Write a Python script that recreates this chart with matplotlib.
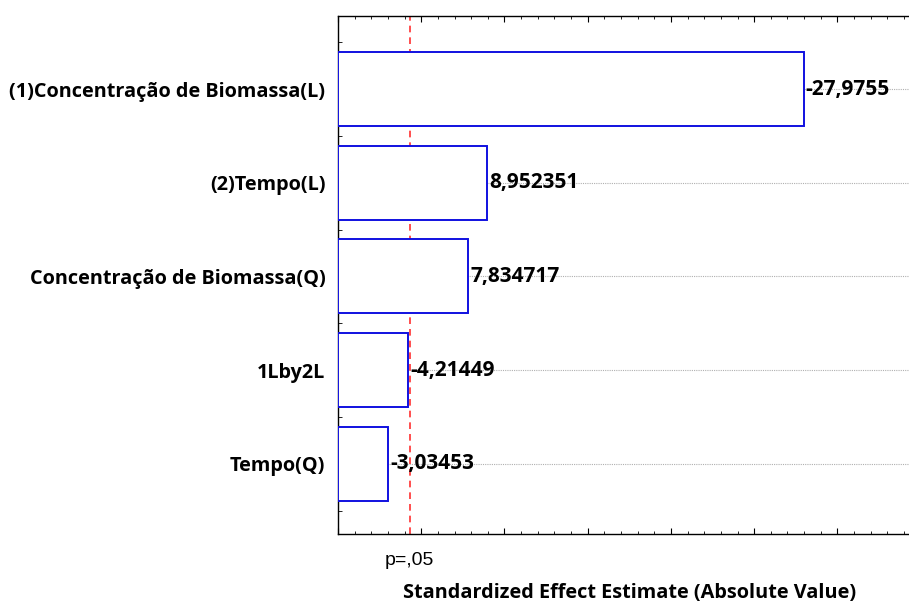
import matplotlib
matplotlib.use("Agg")
import matplotlib.pyplot as plt
from matplotlib.ticker import MultipleLocator, FixedLocator

# --------------------------
# Data (Pareto chart of standardized effects)
# --------------------------
factors = [
    "(1)Concentração de Biomassa(L)",
    "(2)Tempo(L)",
    "Concentração de Biomassa(Q)",
    "1Lby2L",
    "Tempo(Q)",
]
effects = [-27.9755, 8.952351, 7.834717, -4.21449, -3.03453]
value_labels = ["-27,9755", "8,952351", "7,834717", "-4,21449", "-3,03453"]
p_limit = 4.303  # t critical, p=.05

plt.rcParams['font.family'] = ['Open Sans', 'DejaVu Sans']

fig = plt.figure(figsize=(9.09, 6.04), dpi=100)
ax = fig.add_axes([0.3718, 0.1159, 0.6282, 0.8576])

pos = list(range(len(factors)))
abs_eff = [abs(v) for v in effects]

ax.barh(pos, abs_eff, height=0.79, color="white", edgecolor="#1010e0",
        linewidth=1.4, zorder=3)

for y, w, lab in zip(pos, abs_eff, value_labels):
    ax.text(w + 0.12, y, lab, va="center", ha="left", fontsize=15,
            fontweight="bold", zorder=4)

ax.axvline(p_limit, color="#ff3030", linestyle=(0, (4, 3)), linewidth=1.2, zorder=2)

ax.set_xlim(0, 34.3)
ax.set_ylim(4.75, -0.78)

ax.set_yticks(pos)
ax.set_yticklabels(factors, fontsize=14.3, fontweight="bold")
ax.yaxis.set_minor_locator(FixedLocator([i - 0.5 for i in range(len(factors) + 1)]))
ax.xaxis.set_major_locator(MultipleLocator(5))
ax.xaxis.set_minor_locator(MultipleLocator(1))
ax.set_xticklabels([])

ax.tick_params(axis="x", which="both", direction="in", top=True, bottom=True)
ax.tick_params(axis="x", which="major", length=4)
ax.tick_params(axis="x", which="minor", length=2)
ax.tick_params(axis="y", which="major", direction="in", length=3, pad=9)
ax.tick_params(axis="y", which="minor", direction="in", length=3)

ax.grid(axis="y", color="#b0b0b0", linestyle=(0, (1, 1)), linewidth=0.8, zorder=0)
ax.spines["right"].set_visible(False)
for s in ["left", "top", "bottom"]:
    ax.spines[s].set_linewidth(1.0)

ax.text(p_limit, -0.052, "p=,05", transform=ax.get_xaxis_transform(),
        ha="center", va="center", fontsize=14, family="Liberation Sans")

ax.text(0.51, -0.113, "Standardized Effect Estimate (Absolute Value)",
        transform=ax.transAxes, ha="center", va="center", fontsize=14.3,
        fontweight="bold")

fig.savefig("out.png", dpi=100)
